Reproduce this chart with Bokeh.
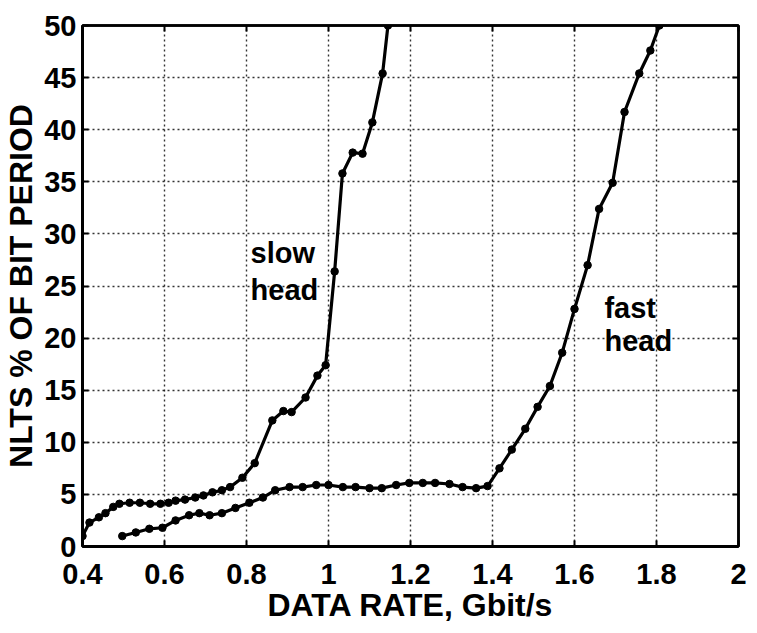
from bokeh.plotting import figure
from bokeh.models import LinearAxis, Range1d, FixedTicker, Label
from bokeh.embed import file_html
from bokeh.resources import INLINE

# ---- data ----
slow_x = [0.40, 0.417, 0.44, 0.456, 0.475, 0.49, 0.515, 0.54, 0.565, 0.59, 0.61, 0.627,
          0.65, 0.675, 0.695, 0.717, 0.74, 0.76, 0.79, 0.82, 0.863, 0.89, 0.91, 0.944,
          0.973, 0.993, 1.015, 1.034, 1.059, 1.083, 1.107, 1.132, 1.145]
slow_y = [1.0, 2.3, 2.8, 3.2, 3.8, 4.1, 4.2, 4.2, 4.1, 4.1, 4.2, 4.4,
          4.5, 4.7, 4.9, 5.2, 5.4, 5.7, 6.6, 8.0, 12.1, 13.0, 12.9, 14.3,
          16.4, 17.4, 26.4, 35.8, 37.8, 37.7, 40.7, 45.4, 50.0]

fast_x = [0.497, 0.53, 0.563, 0.595, 0.627, 0.66, 0.685, 0.71, 0.74, 0.773, 0.807, 0.84,
          0.87, 0.905, 0.937, 0.97, 1.0, 1.035, 1.066, 1.1, 1.13, 1.165, 1.197, 1.23,
          1.26, 1.295, 1.327, 1.36, 1.388, 1.417, 1.447, 1.48, 1.51, 1.54, 1.57, 1.6,
          1.632, 1.66, 1.693, 1.722, 1.758, 1.785, 1.807]
fast_y = [1.0, 1.35, 1.7, 1.8, 2.5, 3.0, 3.2, 3.0, 3.2, 3.7, 4.2, 4.7,
          5.4, 5.7, 5.7, 5.9, 5.9, 5.7, 5.7, 5.6, 5.6, 5.9, 6.1, 6.1,
          6.1, 6.0, 5.7, 5.6, 5.8, 7.5, 9.3, 11.3, 13.4, 15.4, 18.6, 22.8,
          27.0, 32.4, 34.9, 41.7, 45.4, 47.6, 50.0]

x_ticks = [0.4, 0.6, 0.8, 1.0, 1.2, 1.4, 1.6, 1.8, 2.0]
x_tick_labels = ["0.4", "0.6", "0.8", "1", "1.2", "1.4", "1.6", "1.8", "2"]
y_ticks = [0, 5, 10, 15, 20, 25, 30, 35, 40, 45, 50]

curve_labels = [("slow", 0.81, 28.2), ("head", 0.81, 24.6),
                ("fast", 1.673, 22.9), ("head", 1.673, 19.7)]

FONT = "Liberation Sans"

p = figure(width=757, height=633, output_backend="svg", toolbar_location=None,
           x_range=Range1d(0.4, 2.0), y_range=Range1d(0, 50),
           min_border_left=80, min_border_right=19, min_border_top=25,
           min_border_bottom=87, background_fill_color="white",
           border_fill_color="white")

p.outline_line_color = "black"
p.outline_line_width = 2.5

# grid
for g in (p.xgrid, p.ygrid):
    g.grid_line_color = "black"
    g.grid_line_dash = "2 3"
    g.grid_line_width = 1.4
    g.grid_line_alpha = 0.8
p.xgrid.ticker = FixedTicker(ticks=x_ticks)
p.ygrid.ticker = FixedTicker(ticks=y_ticks)

# axes
xa = p.xaxis[0]
xa.ticker = FixedTicker(ticks=x_ticks)
xa.major_label_overrides = {t: l for t, l in zip(x_ticks, x_tick_labels)}
ya = p.yaxis[0]
ya.ticker = FixedTicker(ticks=y_ticks)
for ax in (xa, ya):
    ax.axis_line_width = 3
    ax.axis_line_color = "black"
    ax.major_tick_in = 6
    ax.major_tick_out = 0
    ax.major_tick_line_width = 2
    ax.minor_tick_line_color = None
    ax.major_label_text_font = FONT
    ax.major_label_text_font_style = "bold"
    ax.major_label_text_font_size = "29px"
    ax.major_label_text_color = "black"
    ax.axis_label_text_font = FONT
    ax.axis_label_text_font_style = "bold"
    ax.axis_label_text_font_size = "32px"
    ax.axis_label_text_color = "black"
xa.axis_label = "DATA RATE, Gbit/s"
ya.axis_label = "NLTS % OF BIT PERIOD"
xa.major_label_standoff = 17
xa.axis_label_standoff = 0
ya.major_label_standoff = 6
ya.axis_label_standoff = 2

# tick marks on the top and right frame edges (no labels)
for loc, tick in (("right", y_ticks), ("above", x_ticks)):
    ax = LinearAxis(ticker=FixedTicker(ticks=tick))
    ax.major_label_text_font_size = "8px"
    ax.major_label_overrides = {t: "" for t in tick}
    ax.major_label_standoff = 0
    ax.major_tick_in = 6
    ax.major_tick_out = 0
    ax.major_tick_line_width = 2
    ax.minor_tick_line_color = None
    ax.axis_line_width = 2.5
    p.add_layout(ax, loc)

# curves
for xs, ys in ((slow_x, slow_y), (fast_x, fast_y)):
    p.line(xs, ys, line_color="black", line_width=3.2)
    p.scatter(xs, ys, size=7.5, fill_color="black", line_color="black")

for txt, x, y in curve_labels:
    p.add_layout(Label(x=x, y=y, text=txt, text_font=FONT, text_font_style="bold",
                       text_font_size="29px", text_color="black",
                       text_baseline="alphabetic"))

open("out.html", "w").write(file_html(p, INLINE))
